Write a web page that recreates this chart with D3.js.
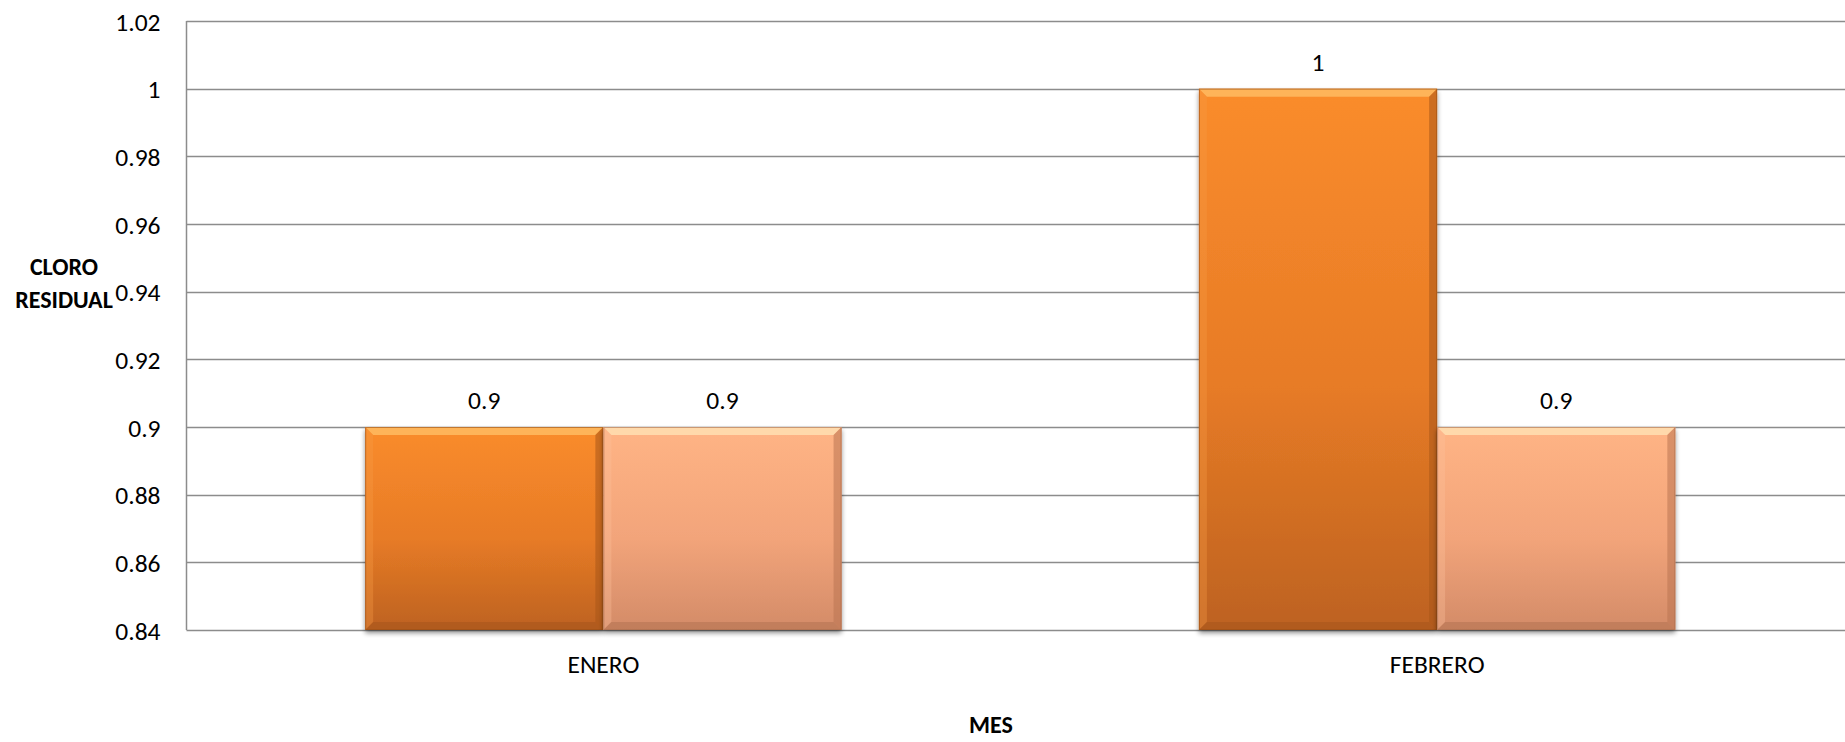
<!DOCTYPE html>
<html>
<head>
<meta charset="utf-8">
<script src="https://cdn.jsdelivr.net/npm/d3@7"></script>
<style>
  html, body { margin: 0; padding: 0; background: #fff; overflow: hidden; }
  svg { display: block; }
  text { font-family: Calibri, Carlito, Lato, sans-serif; fill: #000; }
</style>
</head>
<body>
<svg id="chart" width="1845" height="742"></svg>
<script>
const categories = ["ENERO", "FEBRERO"];
const seriesNames = ["Serie 1", "Serie 2"];
const series1 = [0.9, 1];
const series2 = [0.9, 0.9];
const yTicks = [0.84, 0.86, 0.88, 0.9, 0.92, 0.94, 0.96, 0.98, 1, 1.02];
const yTickLabels = ["0.84", "0.86", "0.88", "0.9", "0.92", "0.94", "0.96", "0.98", "1", "1.02"];
const yTitle = ["CLORO", "RESIDUAL"];
const xTitle = "MES";

const FS = 25.5;
const svg = d3.select("#chart");
const plot = { left: 186.5, right: 1854, top: 21, bottom: 630 };

const x = d3.scaleBand().domain(categories).range([plot.left, plot.right]).padding(0);
const bw = x.bandwidth() / 3.5;           // gap width 150%
const xs = d3.scaleBand().domain(seriesNames)
  .range([0, 2 * bw]).padding(0);
const y = d3.scaleLinear().domain([0.84, 1.02]).range([plot.bottom, plot.top]);

const defs = svg.append("defs");
const palette = [
  { top: "#FA8C2C", mid: "#E77B26", bot: "#BD6220", edgeL: "#F59A45", edgeR: "#A85518", hi: "#FFC26A", botEdge: "#A9561C" },
  { top: "#FFB485", mid: "#F2A47A", bot: "#D38B68", edgeL: "#FCC09A", edgeR: "#B97552", hi: "#FFE6B8", botEdge: "#B57554" }
];
palette.forEach((p, i) => {
  const g = defs.append("linearGradient").attr("id", "g" + i)
    .attr("x1", 0).attr("y1", 0).attr("x2", 0).attr("y2", 1);
  g.append("stop").attr("offset", "0%").attr("stop-color", p.top);
  g.append("stop").attr("offset", "55%").attr("stop-color", p.mid);
  g.append("stop").attr("offset", "100%").attr("stop-color", p.bot);
});
const f = defs.append("filter").attr("id", "shadow")
  .attr("x", "-10%").attr("y", "-10%").attr("width", "120%").attr("height", "120%");
f.append("feGaussianBlur").attr("in", "SourceAlpha").attr("stdDeviation", 2.5).attr("result", "b");
f.append("feOffset").attr("in", "b").attr("dx", 0).attr("dy", 3).attr("result", "o");
f.append("feComponentTransfer").attr("in", "o").attr("result", "s")
  .append("feFuncA").attr("type", "linear").attr("slope", 0.45);
const fm = f.append("feMerge");
fm.append("feMergeNode").attr("in", "s");
fm.append("feMergeNode").attr("in", "SourceGraphic");

// gridlines
svg.append("g").selectAll("line").data(yTicks).join("line")
  .attr("x1", plot.left).attr("x2", plot.right)
  .attr("y1", d => Math.round(y(d)) + 0.5).attr("y2", d => Math.round(y(d)) + 0.5)
  .attr("stroke", "#8C8C8C").attr("stroke-width", 1.5);

// y axis line
svg.append("line")
  .attr("x1", plot.left).attr("x2", plot.left)
  .attr("y1", y(1.02)).attr("y2", y(0.84))
  .attr("stroke", "#8C8C8C").attr("stroke-width", 1.5);

// y tick labels via axis
const yAxis = d3.axisLeft(y).tickValues(yTicks)
  .tickFormat((d, i) => yTickLabels[i]).tickSize(0).tickPadding(26);
const ya = svg.append("g").attr("transform", `translate(${plot.left},0)`).call(yAxis);
ya.select(".domain").remove();
ya.selectAll("text").attr("font-size", FS).attr("fill", "#000")
  .style("font-family", "Calibri, Carlito, Lato, sans-serif").attr("dy", "0.36em");

// x labels via axis
const xAxis = d3.axisBottom(x).tickSize(0).tickPadding(25);
const xa = svg.append("g").attr("transform", `translate(0,${plot.bottom})`).call(xAxis);
xa.select(".domain").remove();
xa.selectAll("text").attr("font-size", FS).attr("fill", "#000")
  .style("font-family", "Calibri, Carlito, Lato, sans-serif").attr("dy", "0.71em");

// bars
const rows = [];
categories.forEach((c, ci) => {
  [series1, series2].forEach((s, si) => {
    rows.push({ cat: c, s: si, name: seriesNames[si], v: s[ci] });
  });
});

const bx0 = d => x(d.cat) + (x.bandwidth() - 2 * bw) / 2 + xs(d.name);
const bars = svg.append("g").selectAll("g").data(rows).join("g");
bars.append("rect")
  .attr("x", d => bx0(d)).attr("y", d => y(d.v))
  .attr("width", xs.bandwidth()).attr("height", d => y(0.84) - y(d.v))
  .attr("fill", d => `url(#g${d.s})`).attr("filter", "url(#shadow)");

const bev = 8;
function poly(d, side) {
  const x0 = bx0(d), x1 = x0 + xs.bandwidth(), y0 = y(d.v), y1 = y(0.84);
  if (side === "top") return [[x0, y0], [x1, y0], [x1 - bev, y0 + bev], [x0 + bev, y0 + bev]];
  if (side === "left") return [[x0, y0], [x0 + bev, y0 + bev], [x0 + bev, y1 - bev], [x0, y1]];
  if (side === "right") return [[x1, y0], [x1 - bev, y0 + bev], [x1 - bev, y1 - bev], [x1, y1]];
  return [[x0, y1], [x0 + bev, y1 - bev], [x1 - bev, y1 - bev], [x1, y1]];
}
bars.append("polygon").attr("points", d => poly(d, "top").join(" "))
  .attr("fill", d => palette[d.s].hi).attr("opacity", 0.75);
bars.append("polygon").attr("points", d => poly(d, "left").join(" "))
  .attr("fill", d => palette[d.s].edgeL).attr("opacity", 0.35);
bars.append("polygon").attr("points", d => poly(d, "right").join(" "))
  .attr("fill", d => palette[d.s].edgeR).attr("opacity", 0.55);
bars.append("polygon").attr("points", d => poly(d, "bottom").join(" "))
  .attr("fill", d => palette[d.s].botEdge).attr("opacity", 0.6);
bars.append("rect")
  .attr("x", d => bx0(d) + 0.5).attr("y", d => y(d.v) + 0.5)
  .attr("width", xs.bandwidth() - 1).attr("height", d => y(0.84) - y(d.v) - 1)
  .attr("fill", "none").attr("stroke", d => d.s === 0 ? "#9A4E14" : "#A86C4C")
  .attr("stroke-opacity", 0.6).attr("stroke-width", 1);

// value labels
svg.append("g").selectAll("text").data(rows).join("text")
  .attr("x", d => bx0(d) + xs.bandwidth() / 2)
  .attr("y", d => y(d.v) - 18)
  .attr("text-anchor", "middle").attr("font-size", FS)
  .text(d => String(d.v));

// axis titles
const yt = svg.append("text").attr("text-anchor", "middle").attr("font-weight", "bold").attr("font-size", 24);
yt.append("tspan").attr("x", 64).attr("y", 275).text(yTitle[0]);
yt.append("tspan").attr("x", 64).attr("y", 308).text(yTitle[1]);

svg.append("text").attr("x", 991).attr("y", 733).attr("text-anchor", "middle")
  .attr("font-weight", "bold").attr("font-size", 24).text(xTitle);
</script>
</body>
</html>
